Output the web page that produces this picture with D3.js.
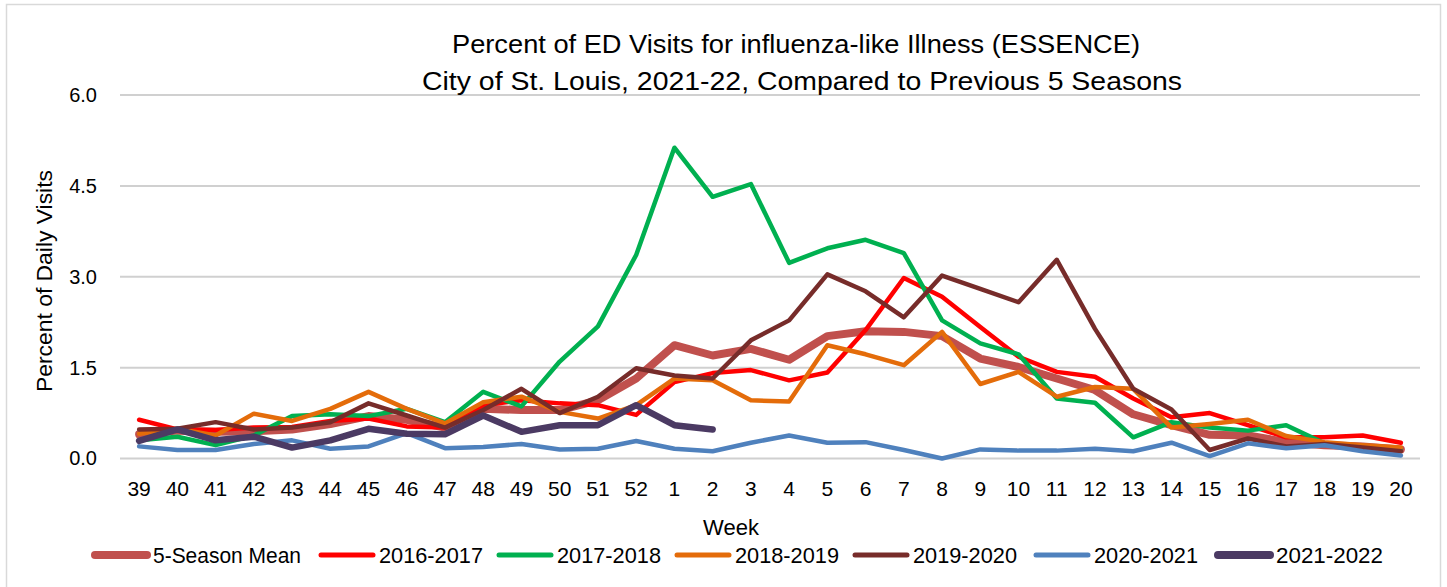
<!DOCTYPE html>
<html><head><meta charset="utf-8">
<script src="https://cdn.jsdelivr.net/npm/d3@7"></script>
<style>
html,body{margin:0;padding:0;background:#fff;}
svg{display:block;font-family:"Liberation Sans",Arial,sans-serif;}
</style></head>
<body><svg id="c" width="1447" height="587"></svg>
<script>
const weeks = ["39","40","41","42","43","44","45","46","47","48","49","50","51","52","1","2","3","4","5","6","7","8","9","10","11","12","13","14","15","16","17","18","19","20"];
const yTicks = [0, 1.5, 3.0, 4.5, 6.0];
const seriesNames = ["5-Season Mean","2016-2017","2017-2018","2018-2019","2019-2020","2020-2021","2021-2022"];
const seriesColors = ["#C0504D","#FF0000","#00B050","#E46C0A","#772C2A","#4F81BD","#4B3A63"];
const mean5 = [0.40,0.46,0.44,0.45,0.48,0.57,0.70,0.64,0.51,0.82,0.80,0.80,0.96,1.32,1.87,1.70,1.81,1.63,2.02,2.10,2.09,2.02,1.65,1.51,1.32,1.13,0.73,0.55,0.39,0.38,0.27,0.22,0.20,0.15];
const s2016 = [0.64,0.48,0.47,0.51,0.52,0.62,0.66,0.53,0.51,0.88,0.96,0.91,0.88,0.72,1.26,1.41,1.46,1.29,1.42,2.12,2.98,2.67,2.17,1.68,1.43,1.35,0.99,0.68,0.75,0.55,0.35,0.35,0.38,0.26];
const s2017 = [0.30,0.36,0.22,0.38,0.70,0.73,0.70,0.82,0.60,1.10,0.86,1.60,2.18,3.36,5.13,4.32,4.53,3.23,3.47,3.61,3.39,2.28,1.90,1.72,0.99,0.92,0.35,0.60,0.51,0.46,0.55,0.25,0.20,0.16];
const s2018 = [0.41,0.49,0.38,0.74,0.62,0.82,1.10,0.82,0.58,0.93,1.02,0.77,0.66,0.88,1.32,1.29,0.96,0.94,1.87,1.72,1.54,2.09,1.23,1.43,1.02,1.18,1.15,0.51,0.57,0.64,0.37,0.27,0.22,0.18];
const s2019 = [0.48,0.49,0.60,0.48,0.51,0.60,0.91,0.71,0.51,0.80,1.15,0.75,1.02,1.49,1.37,1.32,1.95,2.28,3.04,2.76,2.33,3.02,2.80,2.58,3.28,2.14,1.15,0.81,0.14,0.33,0.20,0.24,0.18,0.12];
const s2020 = [0.20,0.14,0.14,0.24,0.30,0.16,0.20,0.42,0.17,0.19,0.24,0.15,0.16,0.29,0.16,0.12,0.26,0.38,0.26,0.27,0.14,0.00,0.15,0.13,0.13,0.16,0.12,0.26,0.04,0.25,0.17,0.22,0.12,0.05];
const s2021 = [0.29,0.48,0.30,0.36,0.18,0.30,0.49,0.41,0.40,0.71,0.44,0.55,0.55,0.88,0.55,0.48];
const seriesData = [mean5, s2016, s2017, s2018, s2019, s2020, s2021];
const seriesWidths = [8, 4.5, 4.5, 4.5, 4.5, 4.5, 6.5];

const svg = d3.select("#c");
svg.append("rect").attr("x",6.5).attr("y",4.5).attr("width",1434).attr("height",620)
  .attr("fill","#fff").attr("stroke","#d9d9d9").attr("stroke-width",1.5);

const x = d3.scaleBand().domain(weeks).range([120,1420]);
const xc = w => x(w) + x.bandwidth()/2;
const y = d3.scaleLinear().domain([0,6]).range([458.5,95]);

// gridlines
svg.append("g").selectAll("line").data(yTicks).join("line")
  .attr("x1",120).attr("x2",1420).attr("y1",d=>y(d)).attr("y2",d=>y(d))
  .attr("stroke","#d0d0d0").attr("stroke-width",2);

// y axis labels
const yAxis = d3.axisLeft(y).tickValues(yTicks).tickFormat(d3.format(".1f")).tickSize(0).tickPadding(0);
const gy = svg.append("g").attr("transform","translate(97,0)").call(yAxis);
gy.select(".domain").remove();
gy.selectAll("text").attr("font-size",20).attr("fill","#000").attr("font-family","Liberation Sans, Arial, sans-serif");

// x axis labels
const xAxis = d3.axisBottom(x).tickSize(0).tickPadding(0);
const gx = svg.append("g").attr("transform","translate(0,481)").call(xAxis);
gx.select(".domain").remove();
gx.selectAll("text").attr("font-size",21).attr("fill","#000").attr("dy","0.71em").attr("font-family","Liberation Sans, Arial, sans-serif");

// lines
const line = d3.line().x((d,i)=>xc(weeks[i])).y(d=>y(d));
seriesData.forEach((arr,k)=>{
  svg.append("path").datum(arr).attr("d",line).attr("fill","none")
    .attr("stroke",seriesColors[k]).attr("stroke-width",seriesWidths[k])
    .attr("stroke-linejoin","round").attr("stroke-linecap","round");
});

// titles
svg.append("text").attr("x",796).attr("y",53).attr("text-anchor","middle").attr("font-size",26)
  .attr("textLength",688).attr("lengthAdjust","spacingAndGlyphs")
  .text("Percent of ED Visits for influenza-like Illness (ESSENCE)");
svg.append("text").attr("x",802).attr("y",90).attr("text-anchor","middle").attr("font-size",26)
  .attr("textLength",760).attr("lengthAdjust","spacingAndGlyphs")
  .text("City of St. Louis, 2021-22, Compared to Previous 5 Seasons");
svg.append("text").attr("transform","translate(52,281) rotate(-90)").attr("text-anchor","middle")
  .attr("font-size",22).attr("textLength",222).attr("lengthAdjust","spacingAndGlyphs").text("Percent of Daily Visits");
svg.append("text").attr("x",731).attr("y",535).attr("text-anchor","middle").attr("font-size",22).text("Week");

// legend
const legendX = [92, 318, 496, 674, 852, 1033, 1215];
const legendW = [148, 104, 104, 104, 104, 104, 107];
const lg = svg.append("g");
seriesNames.forEach((n,k)=>{
  lg.append("line").attr("x1",legendX[k]+3).attr("x2",legendX[k]+55).attr("y1",555).attr("y2",555)
    .attr("stroke",seriesColors[k]).attr("stroke-width",k===0?8:(k===6?8:5)).attr("stroke-linecap","round");
  lg.append("text").attr("x",legendX[k]+61).attr("y",563).attr("font-size",22)
    .attr("textLength",legendW[k]).attr("lengthAdjust","spacingAndGlyphs").text(n);
});
</script></body></html>
